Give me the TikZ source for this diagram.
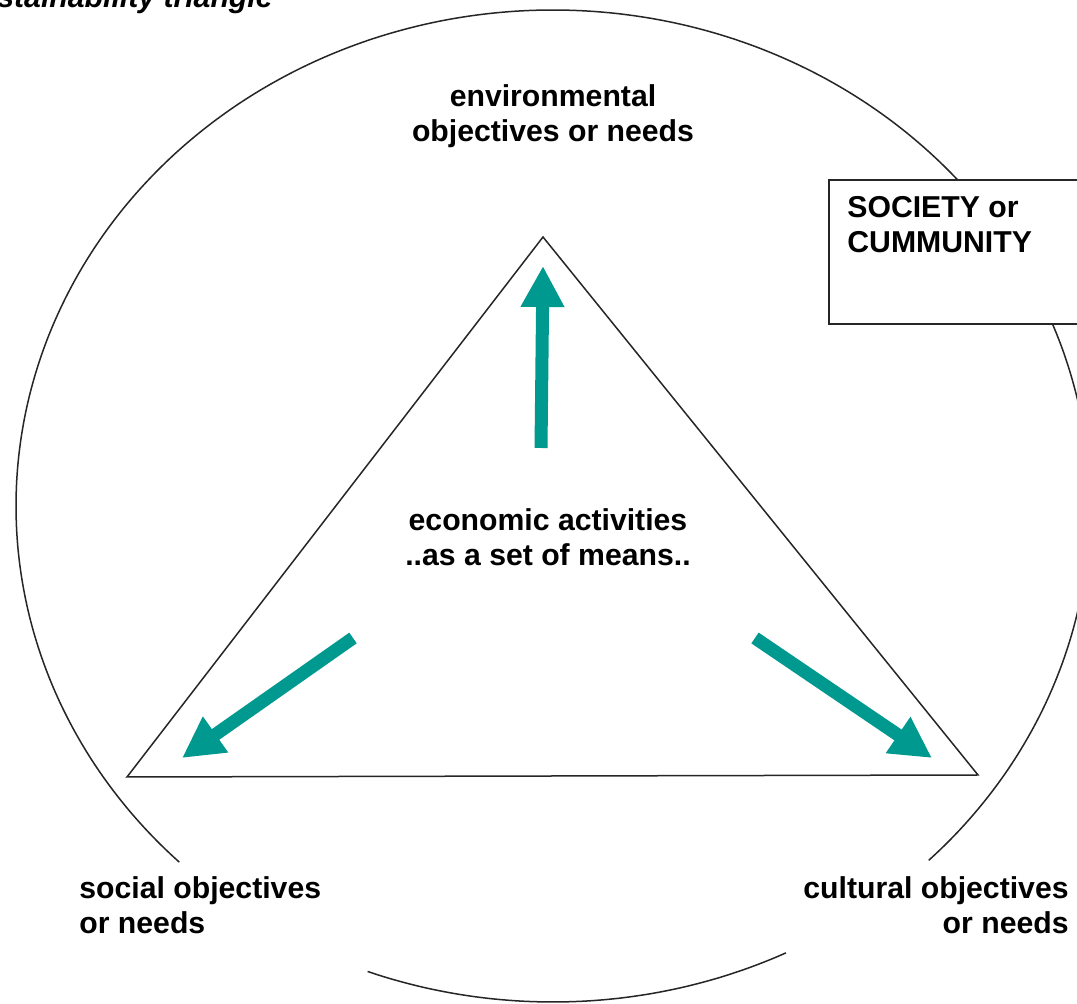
\documentclass[tikz,border=0pt]{standalone}
\usepackage{fontspec}
\setmainfont{Liberation Sans}
\usetikzlibrary{arrows.meta}
\definecolor{tealarrow}{RGB}{0,153,143}
\begin{document}
\begin{tikzpicture}[x=0.5pt,y=-0.5pt,
  lbl/.style={font=\fontsize{15.1}{17.6}\selectfont\bfseries, inner sep=0pt},
  outline/.style={line width=0.75pt, draw=black!85},
  bigarrow/.style={draw=tealarrow, line width=6.5pt, -{Triangle[width=20.5pt,length=20.5pt]}}]
\clip (0,0) rectangle (1077,1004);
\fill[white] (0,0) rectangle (1077,1004);
% society circle (with gaps near the lower labels)
\draw[outline] plot[domain=-225.9:45.6, samples=240, smooth] ({553+537*cos(\x)},{506+496*sin(\x)});
\draw[outline] plot[domain=64.3:110.2, samples=60, smooth] ({553+537*cos(\x)},{506+496*sin(\x)});
% society box
\node[draw=black!85, line width=1pt, fill=white, anchor=north west, minimum width=136pt, minimum height=72pt, inner sep=0pt] (box) at (828,179) {};
\node[lbl, anchor=north west, align=left] (society) at (847,196) {SOCIETY or\\CUMMUNITY};
% triangle
\coordinate (top) at (543,237);
\coordinate (bl) at (127,777);
\coordinate (br) at (978,775);
\draw[outline, line join=miter] (top) -- (bl) -- (br) -- cycle;
% arrows
\coordinate (upTail) at (541,448);
\coordinate (upTip) at (543,266);
\coordinate (lTail) at (353,638);
\coordinate (lTip) at (182,758);
\coordinate (rTail) at (755,638);
\coordinate (rTip) at (932,758);
\draw[bigarrow] (upTail) -- (upTip);
\draw[bigarrow] (lTail) -- (lTip);
\draw[bigarrow] (rTail) -- (rTip);
% labels
\node[font=\fontsize{15.1}{17.6}\selectfont\bfseries\itshape, inner sep=0pt, anchor=base west] (title) at (-3,8) {stainability triangle};
\node[lbl, anchor=north, align=center] (env) at (553,84) {environmental\\objectives or needs};
\node[lbl, anchor=north, align=center] (eco) at (548,508) {economic activities\\..as a set of means..};
\node[lbl, anchor=north west, align=left] (social) at (79,876) {social objectives\\or needs};
\node[lbl, anchor=north east, align=right] (cultural) at (1069,876) {cultural objectives\\or needs};
\end{tikzpicture}
\end{document}
